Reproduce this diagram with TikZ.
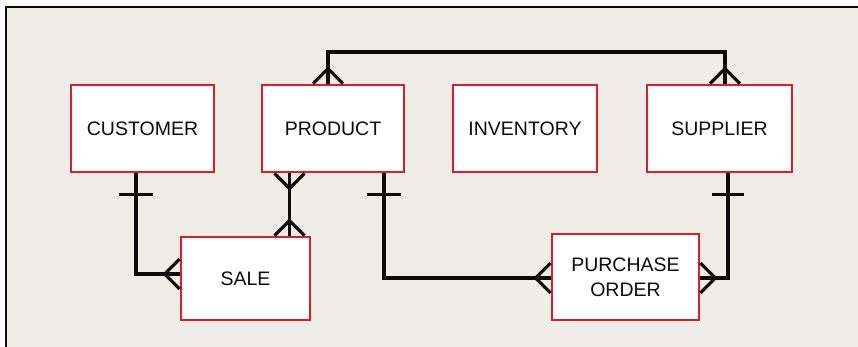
\documentclass[tikz,border=0pt]{standalone}
\usepackage{fontspec}
\setmainfont{Liberation Sans}
\usetikzlibrary{calc}
\definecolor{bgpaper}{RGB}{239,237,231}
\definecolor{boxred}{RGB}{226,28,36}
\definecolor{inkblack}{RGB}{12,12,12}
\begin{document}
\begin{tikzpicture}[x=1pt,y=-1pt,
  entity/.style={draw=boxred,line width=2.8pt,fill=white,inner sep=0pt,
    font=\fontsize{19.5}{25}\selectfont,align=center,text=inkblack},
  conn/.style={draw=inkblack,line width=3.2pt},
  tick/.style={draw=inkblack,line width=2.8pt}]
% background and frame
\useasboundingbox (0,0) rectangle (858,347);
\fill[white] (0,0) rectangle (858,347);
\fill[bgpaper] (6,8) rectangle (858,347);
\draw[inkblack,line width=2.2pt] (858,7) -- (6,7) -- (6,347);
% entities
\node[entity,minimum width=143pt,minimum height=87pt] (cust) at (142.5,128.5) {CUSTOMER};
\node[entity,minimum width=142pt,minimum height=87pt] (prod) at (333,128.5) {PRODUCT};
\node[entity,minimum width=144pt,minimum height=87pt] (inv)  at (525,128.5) {INVENTORY};
\node[entity,minimum width=145pt,minimum height=87pt] (sup)  at (719.5,128.5) {SUPPLIER};
\node[entity,minimum width=129pt,minimum height=83pt] (sale) at (245.5,278.5) {SALE};
\node[entity,minimum width=147pt,minimum height=86pt] (po)   at (625.5,277) {PURCHASE\\ORDER};
% helper coordinates for connector positions
\coordinate (xtop1) at (328,52);
\coordinate (xtop2) at (725,52);
\coordinate (xps) at (289.5,0);
\coordinate (xcs) at (136,274);
\coordinate (xpp) at (384,278);
\coordinate (xsp) at (728,278);
% PRODUCT -- SUPPLIER (over the top)
\draw[conn] (prod.north -| xtop1) -- (xtop1) -- (xtop2) -- (sup.north -| xtop2);
\draw[conn] ($(prod.north -| xtop1)+(-15,0)$) -- ($(prod.north -| xtop1)+(0,-15)$) -- ($(prod.north -| xtop1)+(15,0)$);
\draw[conn] ($(sup.north -| xtop2)+(-15,0)$) -- ($(sup.north -| xtop2)+(0,-15)$) -- ($(sup.north -| xtop2)+(15,0)$);
% PRODUCT -- SALE
\draw[conn] (prod.south -| xps) -- (sale.north -| xps);
\draw[conn] ($(prod.south -| xps)+(-15,0)$) -- ($(prod.south -| xps)+(0,15)$) -- ($(prod.south -| xps)+(15,0)$);
\draw[conn] ($(sale.north -| xps)+(-15,0)$) -- ($(sale.north -| xps)+(0,-15)$) -- ($(sale.north -| xps)+(15,0)$);
% CUSTOMER -- SALE
\draw[conn] (cust.south -| xcs) -- (xcs) -- (sale.west |- xcs);
\draw[tick] ($(cust.south -| xcs)+(-17,21)$) -- ($(cust.south -| xcs)+(17,21)$);
\draw[conn] ($(sale.west |- xcs)+(0,-15)$) -- ($(sale.west |- xcs)+(-15,0)$) -- ($(sale.west |- xcs)+(0,15)$);
% PRODUCT -- PURCHASE ORDER
\draw[conn] (prod.south -| xpp) -- (xpp) -- (po.west |- xpp);
\draw[tick] ($(prod.south -| xpp)+(-17,21)$) -- ($(prod.south -| xpp)+(17,21)$);
\draw[conn] ($(po.west |- xpp)+(0,-15)$) -- ($(po.west |- xpp)+(-15,0)$) -- ($(po.west |- xpp)+(0,15)$);
% SUPPLIER -- PURCHASE ORDER
\draw[conn] (sup.south -| xsp) -- (xsp) -- (po.east |- xsp);
\draw[tick] ($(sup.south -| xsp)+(-16,21)$) -- ($(sup.south -| xsp)+(16,21)$);
\draw[conn] ($(po.east |- xsp)+(0,-15)$) -- ($(po.east |- xsp)+(15,0)$) -- ($(po.east |- xsp)+(0,15)$);
\end{tikzpicture}
\end{document}
